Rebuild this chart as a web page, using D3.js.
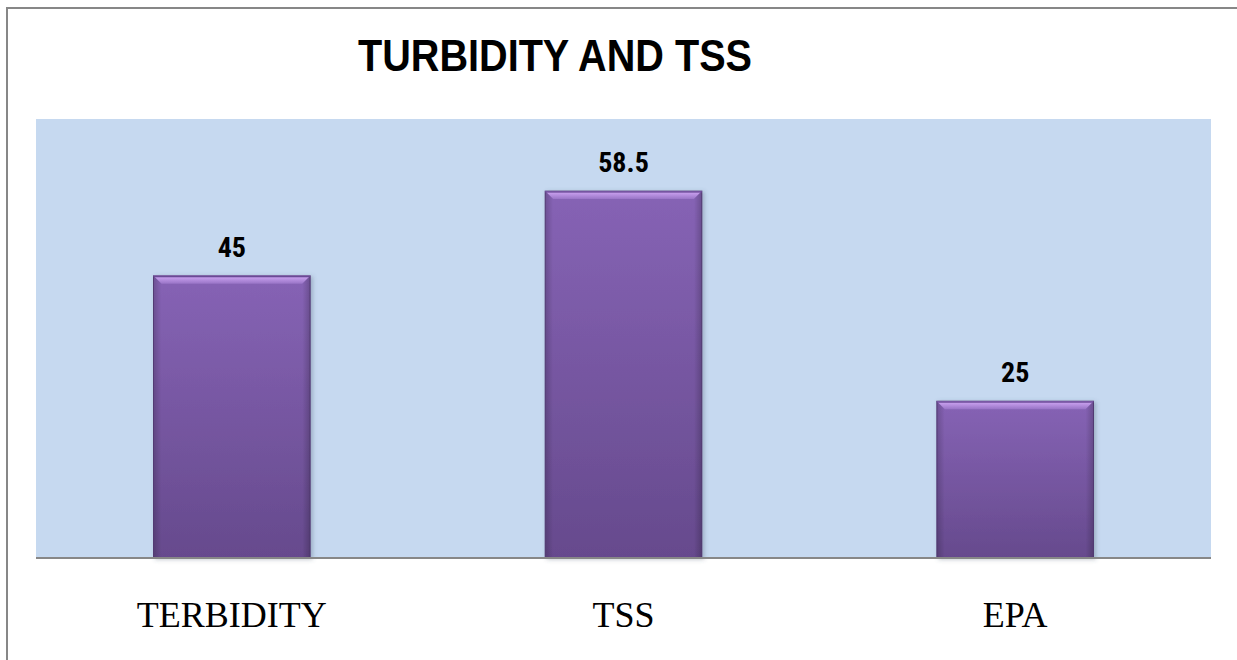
<!DOCTYPE html>
<html>
<head>
<meta charset="utf-8">
<script src="https://cdn.jsdelivr.net/npm/d3@7"></script>
<style>
  html, body { margin: 0; padding: 0; background: #fff; overflow: hidden; }
</style>
</head>
<body>
<svg id="chart" width="1237" height="660"></svg>
<script>
// chart data
var categories = ["TERBIDITY", "TSS", "EPA"];
var values = [45, 58.5, 25];
var chartTitle = "TURBIDITY AND TSS";

var svg = d3.select("#chart");
var width = +svg.attr("width"),
    height = +svg.attr("height");

var plot = {left: 36, top: 119, right: 1211, bottom: 558};

// outer frame (runs off the right and bottom edge of the picture)
svg.append("rect")
    .attr("x", 7).attr("y", 8)
    .attr("width", width + 20).attr("height", height + 20)
    .attr("fill", "#fff")
    .attr("stroke", "#878787")
    .attr("stroke-width", 2);

// plot area background
svg.append("rect")
    .attr("x", plot.left).attr("y", plot.top)
    .attr("width", plot.right - plot.left)
    .attr("height", plot.bottom - plot.top)
    .attr("fill", "#c6d9f0");

var x = d3.scaleBand()
    .domain(categories)
    .range([plot.left, plot.right])
    .paddingInner(0.6)
    .paddingOuter(0.3);

var y = d3.scaleLinear()
    .domain([0, 70])
    .range([plot.bottom, plot.top]);

var defs = svg.append("defs");

var body = defs.append("linearGradient")
    .attr("id", "barBody")
    .attr("x1", 0).attr("y1", 0).attr("x2", 0).attr("y2", 1);
body.append("stop").attr("offset", "0%").attr("stop-color", "#8663b5");
body.append("stop").attr("offset", "100%").attr("stop-color", "#664a8d");

var side = defs.append("linearGradient")
    .attr("id", "barSide")
    .attr("x1", 0).attr("y1", 0).attr("x2", 1).attr("y2", 0);
side.append("stop").attr("offset", "0%").attr("stop-color", "#000").attr("stop-opacity", 0.18);
side.append("stop").attr("offset", "5%").attr("stop-color", "#000").attr("stop-opacity", 0);
side.append("stop").attr("offset", "95%").attr("stop-color", "#000").attr("stop-opacity", 0);
side.append("stop").attr("offset", "100%").attr("stop-color", "#000").attr("stop-opacity", 0.2);

var bevel = defs.append("linearGradient")
    .attr("id", "barBevel")
    .attr("x1", 0).attr("y1", 0).attr("x2", 0).attr("y2", 1);
bevel.append("stop").attr("offset", "0%").attr("stop-color", "#d2a9f6");
bevel.append("stop").attr("offset", "100%").attr("stop-color", "#9874c6");

var shadow = defs.append("filter")
    .attr("id", "barShadow")
    .attr("x", "-10%").attr("y", "-10%").attr("width", "130%").attr("height", "130%");
shadow.append("feDropShadow")
    .attr("dx", 2).attr("dy", 1).attr("stdDeviation", 2)
    .attr("flood-color", "#4a5a70").attr("flood-opacity", 0.35);

var bars = svg.append("g").selectAll("g")
    .data(values)
    .join("g")
    .attr("transform", function(d, i) { return "translate(" + x(categories[i]) + "," + y(d) + ")"; });

var bw = x.bandwidth(), bv = 8;

bars.append("rect")
    .attr("width", bw)
    .attr("height", function(d) { return y(0) - y(d); })
    .attr("fill", "url(#barBody)")
    .attr("stroke", "#5a3f7e")
    .attr("stroke-width", 1)
    .attr("filter", "url(#barShadow)");

bars.append("rect")
    .attr("width", bw)
    .attr("height", function(d) { return y(0) - y(d); })
    .attr("fill", "url(#barSide)");

// top bevel highlight
bars.append("path")
    .attr("d", "M0,0 L" + bw + ",0 L" + (bw - bv) + "," + bv + " L" + bv + "," + bv + " Z")
    .attr("fill", "url(#barBevel)");

bars.append("rect")
    .attr("width", bw).attr("height", 1.5)
    .attr("fill", "#6a4a96");

// value labels
svg.append("g").selectAll("text")
    .data(values)
    .join("text")
    .attr("x", function(d, i) { return x(categories[i]) + bw / 2; })
    .attr("y", function(d) { return y(d) - 19; })
    .attr("text-anchor", "middle")
    .attr("font-family", "'Liberation Sans Narrow', 'Arial Narrow', 'Roboto Condensed', sans-serif")
    .attr("font-weight", "bold")
    .attr("font-size", 28)
    .attr("fill", "#000")
    .text(function(d) { return d; });

// category axis line
svg.append("line")
    .attr("x1", plot.left).attr("x2", plot.right)
    .attr("y1", plot.bottom).attr("y2", plot.bottom)
    .attr("stroke", "#878787")
    .attr("stroke-width", 2);

// category labels
svg.append("g").selectAll("text")
    .data(categories)
    .join("text")
    .attr("x", function(d) { return x(d) + bw / 2; })
    .attr("y", 627)
    .attr("text-anchor", "middle")
    .attr("font-family", "'Liberation Serif', 'Times New Roman', serif")
    .attr("font-size", 36)
    .attr("fill", "#000")
    .text(function(d) { return d; });

// title
svg.append("text")
    .attr("x", 555)
    .attr("y", 71)
    .attr("text-anchor", "middle")
    .attr("font-family", "'Liberation Sans Narrow', 'Arial Narrow', sans-serif")
    .attr("font-weight", "bold")
    .attr("font-size", 44)
    .attr("textLength", 394)
    .attr("lengthAdjust", "spacingAndGlyphs")
    .attr("fill", "#000")
    .text(chartTitle);
</script>
</body>
</html>
